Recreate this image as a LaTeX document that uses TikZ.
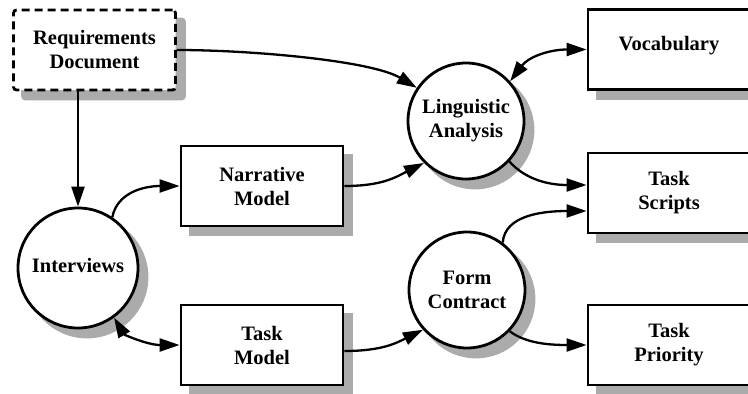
\documentclass[tikz,border=0pt]{standalone}
\usepackage{fontspec}
\setmainfont{Liberation Serif}
\usetikzlibrary{arrows.meta,shadows}
\definecolor{shade}{HTML}{ABABAB}
\begin{document}
\begin{tikzpicture}[x=1pt,y=-1pt,
  every node/.style={font=\fontsize{20.5}{24}\selectfont\bfseries, align=center, inner sep=0pt},
  flatshadow/.style={copy shadow={shadow xshift=9pt, shadow yshift=-9pt, fill=shade, draw=shade, solid}},
  databox/.style={rectangle, draw, line width=2.8pt, fill=white, minimum width=162pt, minimum height=80pt, flatshadow},
  docbox/.style={databox, dashed, dash pattern=on 8pt off 5pt, rounded corners=3pt},
  process/.style={circle, draw, line width=2.8pt, fill=white, minimum size=#1, flatshadow},
  link/.style={line width=2.3pt, -{Triangle[length=20pt,width=13pt]}},
  duplex/.style={line width=2.3pt, {Triangle[length=20pt,width=13pt]}-{Triangle[length=20pt,width=13pt]}}
]
\useasboundingbox (0,0) rectangle (748,394);

% data stores and the source document
\node[docbox] (req) at (94.5,50) {Requirements\\Document};
\node[databox] (narr) at (262,186) {Narrative\\Model};
\node[databox] (tm) at (262,345) {Task\\Model};
\node[databox, text depth=13pt] (voc) at (669,49.5) {Vocabulary};
\node[databox] (ts) at (669,193) {Task\\Scripts};
\node[databox] (tp) at (669,345) {Task\\Priority};

% processes
\node[process=120pt, text depth=6pt] (int) at (78,268) {Interviews};
\node[process=116pt] (ling) at (466,121) {Linguistic\\Analysis};
\node[process=116pt] (form) at (467,290) {Form\\Contract};

% flows
\draw[link] (req.east) .. controls +(75,0) and +(-45,-27) .. (ling.146);
\draw[link] (int.north |- req.south) -- (int.north);
\draw[link] (int.56) .. controls +(5,-25) and +(-35,0) .. (narr.west);
\draw[link] (narr.east) .. controls +(38,0) and +(-28,14) .. (ling.225);
\draw[duplex] (ling.42) .. controls +(18,-24) and +(-38,0) .. (voc.west);
\draw[link] (ling.-43) .. controls +(16,18) and +(-38,0) .. ([yshift=8pt]ts.west);
\draw[duplex] (int.-54) .. controls +(10,17) and +(-32,0) .. (tm.west);
\draw[link] ([yshift=-6pt]tm.east) .. controls +(38,0) and +(-26,13) .. (form.222);
\draw[link] (form.53) .. controls +(2,-28) and +(-42,0) .. ([yshift=-18pt]ts.west);
\draw[link] (form.-44) .. controls +(16,12) and +(-38,0) .. (tp.west);
\end{tikzpicture}
\end{document}
